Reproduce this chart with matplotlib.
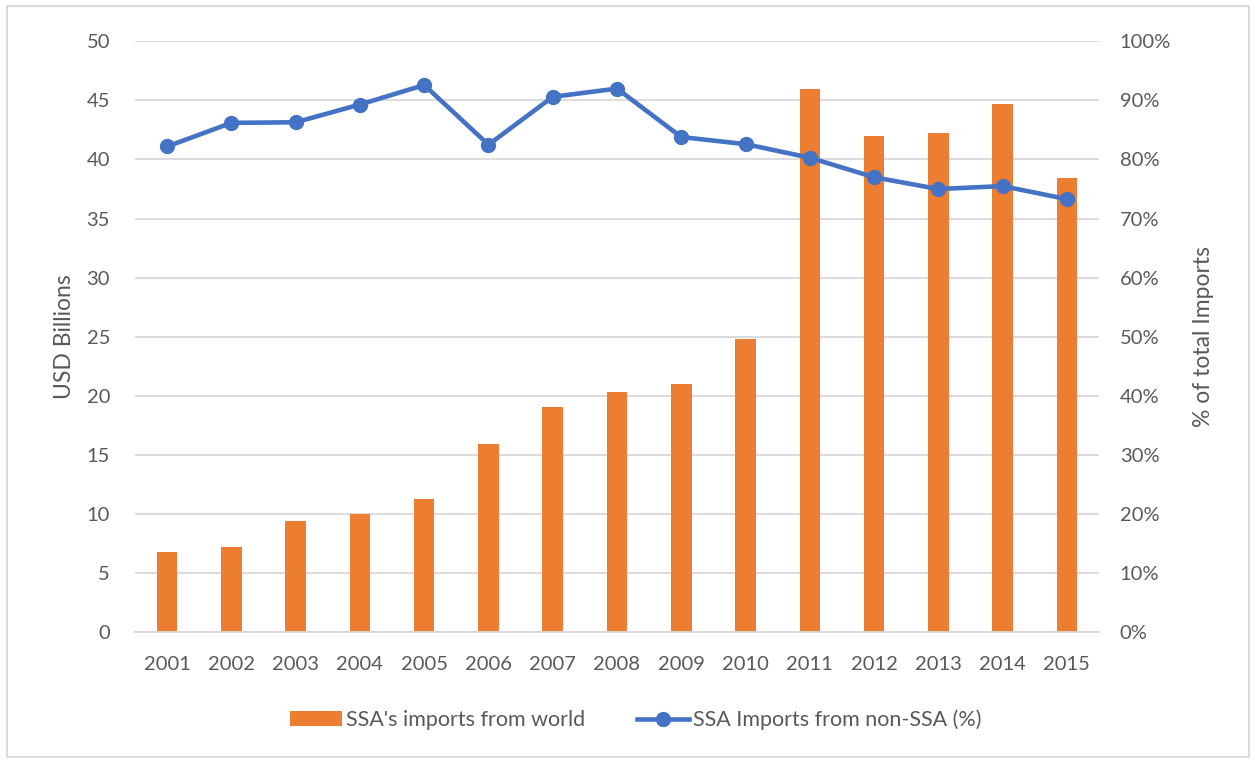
import matplotlib
matplotlib.use("Agg")
import matplotlib.pyplot as plt
from matplotlib.patches import Rectangle
from matplotlib.lines import Line2D
from matplotlib.patches import Patch

years = ["2001", "2002", "2003", "2004", "2005", "2006", "2007", "2008",
         "2009", "2010", "2011", "2012", "2013", "2014", "2015"]
imports_world = [6.8, 7.2, 9.4, 10.0, 11.3, 15.9, 19.1, 20.3, 21.0, 24.8,
                 46.0, 42.0, 42.2, 44.7, 38.4]
share_non_ssa = [82.2, 86.2, 86.3, 89.3, 92.6, 82.5, 90.6, 92.0, 83.8, 82.6,
                 80.3, 77.0, 75.0, 75.5, 73.3]
left_ticks = [0, 5, 10, 15, 20, 25, 30, 35, 40, 45, 50]
right_ticks = [0, 10, 20, 30, 40, 50, 60, 70, 80, 90, 100]

ORANGE = "#ED7D31"
BLUE = "#4472C4"
GRID = "#D9D9D9"
TXT = "#595959"

plt.rcParams['font.family'] = ['Lato', 'DejaVu Sans']

W, H = 1255, 763
fig = plt.figure(figsize=(W / 100, H / 100), dpi=100)
fig.patch.set_facecolor("white")

# outer border
fig.add_artist(Rectangle((7 / W, 1 - 757 / H), (1249 - 7) / W, (757 - 6) / H,
                         transform=fig.transFigure, fill=False,
                         edgecolor=GRID, linewidth=1.3))

ax = fig.add_axes([135 / W, 1 - 632.3 / H, (1099 - 135) / W, (632.3 - 41.3) / H])
x = list(range(len(years)))
ax.bar(x, imports_world, width=0.32, color=ORANGE, zorder=2)
ax.set_xlim(-0.5, len(years) - 0.5)
ax.set_ylim(0, 50)
ax.set_yticks(left_ticks)
ax.set_yticklabels([str(t) for t in left_ticks])
ax.set_xticks(x)
ax.set_xticklabels(years)
ax.grid(axis="y", color=GRID, linewidth=1.3, zorder=0)
ax.set_axisbelow(True)
for s in ["top", "right", "left"]:
    ax.spines[s].set_visible(False)
ax.spines["bottom"].set_color(GRID)
ax.spines["bottom"].set_linewidth(1.3)
ax.tick_params(axis="both", length=0, labelsize=14.5, labelcolor=TXT)
ax.tick_params(axis="x", pad=17)
ax.tick_params(axis="y", pad=18)
ax.set_ylabel("USD Billions", fontsize=16.5, color=TXT, labelpad=8)

ax2 = ax.twinx()
ax2.plot(x, share_non_ssa, color=BLUE, linewidth=3.3, marker="o",
         markersize=10, zorder=3)
ax2.set_ylim(0, 100)
ax2.set_yticks(right_ticks)
ax2.set_yticklabels([f"{t}%" for t in right_ticks])
for s in ["top", "right", "left", "bottom"]:
    ax2.spines[s].set_visible(False)
ax2.tick_params(axis="y", length=0, labelsize=14.5, labelcolor=TXT, pad=15)
ax2.set_ylabel("% of total Imports", fontsize=16.5, color=TXT, labelpad=16)

handles = [Patch(facecolor=ORANGE, edgecolor="none"),
           Line2D([0], [0], color=BLUE, linewidth=3.3, marker="o", markersize=10)]
labels = ["SSA's imports from world", "SSA Imports from non-SSA (%)"]
fig.legend(handles, labels, loc="center", bbox_to_anchor=(636 / W, 1 - 720 / H),
           ncol=2, frameon=False, fontsize=15.5, labelcolor=TXT,
           handlelength=2.4, handleheight=0.7, handletextpad=0.2,
           columnspacing=2.4)

fig.savefig("out.png", dpi=100, facecolor="white")
